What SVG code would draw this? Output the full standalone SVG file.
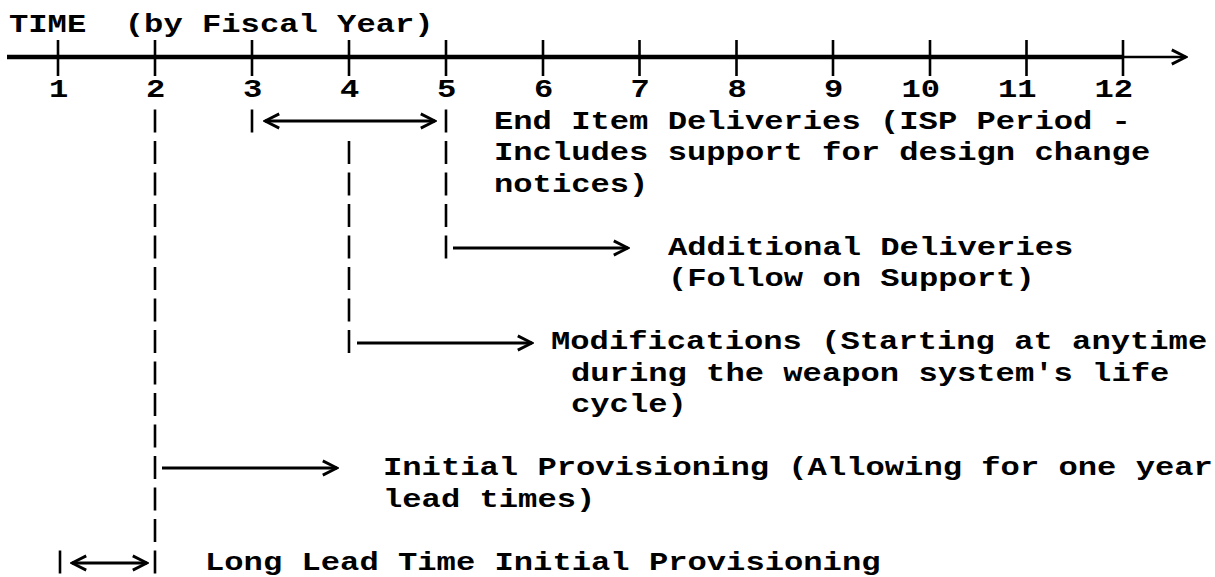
<svg xmlns="http://www.w3.org/2000/svg" width="1215" height="577" viewBox="0 0 1215 577">
<defs>
<style>
text{font-family:"Liberation Mono","Courier New",monospace;font-size:26px;font-weight:bold;fill:#000;white-space:pre}
.ln{stroke:#000;stroke-width:3;fill:none}
.bar{stroke:#000;stroke-width:2.6;fill:none}
.tick{stroke:#000;stroke-width:2.6}
.dash{stroke:#000;stroke-width:2.6;stroke-dasharray:23 8.5}
</style>
<marker id="chev" markerUnits="userSpaceOnUse" markerWidth="18" markerHeight="18" viewBox="-2 -2 19 19" refX="15" refY="7.5" orient="auto-start-reverse">
<path d="M0,0 L15,7.5 L0,15" fill="none" stroke="#000" stroke-width="3"/>
</marker>
</defs>
<rect width="1215" height="577" fill="#fff"/>

<g id="axis">
<text x="9" y="32" textLength="424.6" lengthAdjust="spacingAndGlyphs">TIME  (by Fiscal Year)</text>
<line x1="7" y1="57" x2="1123" y2="57" stroke="#000" stroke-width="4.5"/>
<line x1="1120" y1="57" x2="1186" y2="57" stroke="#000" stroke-width="2.6" marker-end="url(#chev)"/>
<line class="tick" x1="58" y1="40" x2="58" y2="76"/>
<line class="tick" x1="155" y1="40" x2="155" y2="76"/>
<line class="tick" x1="252" y1="40" x2="252" y2="76"/>
<line class="tick" x1="349" y1="40" x2="349" y2="76"/>
<line class="tick" x1="446" y1="40" x2="446" y2="76"/>
<line class="tick" x1="543" y1="40" x2="543" y2="76"/>
<line class="tick" x1="639.5" y1="40" x2="639.5" y2="76"/>
<line class="tick" x1="736.5" y1="40" x2="736.5" y2="76"/>
<line class="tick" x1="833" y1="40" x2="833" y2="76"/>
<line class="tick" x1="930" y1="40" x2="930" y2="76"/>
<line class="tick" x1="1026.5" y1="40" x2="1026.5" y2="76"/>
<line class="tick" x1="1123" y1="40" x2="1123" y2="76"/>
<text x="49" y="97" textLength="19.3" lengthAdjust="spacingAndGlyphs">1</text>
<text x="146" y="97" textLength="19.3" lengthAdjust="spacingAndGlyphs">2</text>
<text x="243" y="97" textLength="19.3" lengthAdjust="spacingAndGlyphs">3</text>
<text x="340" y="97" textLength="19.3" lengthAdjust="spacingAndGlyphs">4</text>
<text x="437" y="97" textLength="19.3" lengthAdjust="spacingAndGlyphs">5</text>
<text x="534" y="97" textLength="19.3" lengthAdjust="spacingAndGlyphs">6</text>
<text x="630.5" y="97" textLength="19.3" lengthAdjust="spacingAndGlyphs">7</text>
<text x="727.5" y="97" textLength="19.3" lengthAdjust="spacingAndGlyphs">8</text>
<text x="824" y="97" textLength="19.3" lengthAdjust="spacingAndGlyphs">9</text>
<text x="901.5" y="97" textLength="38.6" lengthAdjust="spacingAndGlyphs">10</text>
<text x="998" y="97" textLength="38.6" lengthAdjust="spacingAndGlyphs">11</text>
<text x="1094.5" y="97" textLength="38.6" lengthAdjust="spacingAndGlyphs">12</text>
</g>

<g id="connectors">
<line class="dash" x1="155" y1="109.5" x2="155" y2="573.5"/>
<line class="dash" x1="252" y1="109.5" x2="252" y2="132.5"/>
<line class="dash" x1="349" y1="141" x2="349" y2="353"/>
<line class="dash" x1="446" y1="109.5" x2="446" y2="258.5"/>
<line class="dash" x1="60" y1="550.5" x2="60" y2="573.5"/>
<line class="ln" x1="265" y1="121" x2="435" y2="121" marker-start="url(#chev)" marker-end="url(#chev)"/>
<line class="ln" x1="453" y1="248" x2="628" y2="248" marker-end="url(#chev)"/>
<line class="ln" x1="357" y1="343" x2="532" y2="343" marker-end="url(#chev)"/>
<line class="ln" x1="162" y1="468" x2="337" y2="468" marker-end="url(#chev)"/>
<line class="ln" x1="72" y1="563" x2="147" y2="563" marker-start="url(#chev)" marker-end="url(#chev)"/>
</g>

<g id="end-item">
<text x="494" y="128.5" textLength="636.9" lengthAdjust="spacingAndGlyphs">End Item Deliveries (ISP Period -</text>
<text x="494" y="160" textLength="656.2" lengthAdjust="spacingAndGlyphs">Includes support for design change</text>
<text x="494" y="191.5" textLength="154.4" lengthAdjust="spacingAndGlyphs">notices)</text>
</g>

<g id="additional">
<text x="668" y="254.5" textLength="405.3" lengthAdjust="spacingAndGlyphs">Additional Deliveries</text>
<text x="668" y="286" textLength="366.7" lengthAdjust="spacingAndGlyphs">(Follow on Support)</text>
</g>

<g id="modifications">
<text x="551" y="349" textLength="656.2" lengthAdjust="spacingAndGlyphs">Modifications (Starting at anytime</text>
<text x="571" y="380.5" textLength="598.3" lengthAdjust="spacingAndGlyphs">during the weapon system's life</text>
<text x="571" y="412" textLength="115.8" lengthAdjust="spacingAndGlyphs">cycle)</text>
</g>

<g id="initial">
<text x="383" y="475" textLength="829.9" lengthAdjust="spacingAndGlyphs">Initial Provisioning (Allowing for one year</text>
<text x="383" y="506.5" textLength="212.3" lengthAdjust="spacingAndGlyphs">lead times)</text>
</g>

<g id="long-lead">
<text x="205" y="569.5" textLength="675.5" lengthAdjust="spacingAndGlyphs">Long Lead Time Initial Provisioning</text>
</g>
</svg>
